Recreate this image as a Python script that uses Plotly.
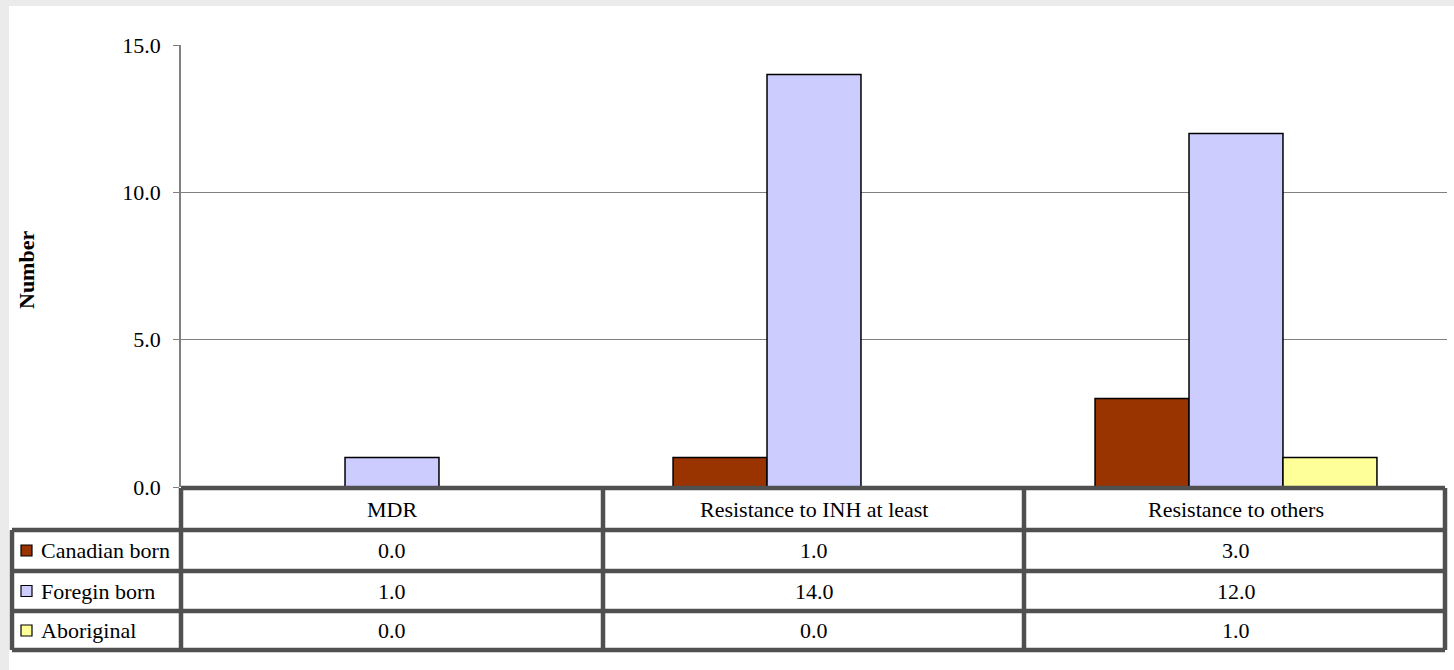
import plotly.graph_objects as go

categories = ["MDR", "Resistance to INH at least", "Resistance to others"]
series_names = ["Canadian born", "Foregin born", "Aboriginal"]
canadian_born = [0.0, 1.0, 3.0]
foreign_born = [1.0, 14.0, 12.0]
aboriginal = [0.0, 0.0, 1.0]
series_values = [canadian_born, foreign_born, aboriginal]
colors = ["#993300", "#CCCCFF", "#FFFF99"]
y_ticks = [0, 5, 10, 15]

W, H = 1454, 670
ML, MR, MT, MB = 181, 7, 45, 183
PW = W - ML - MR
PH = H - MT - MB

def px(p):
    return (p - ML) / PW

def py(p):
    return (H - MB - p) / PH

FONT = "Liberation Serif, Times New Roman, serif"
FS = 22

fig = go.Figure()
for name, vals, col in zip(series_names, series_values, colors):
    fig.add_trace(go.Bar(
        x=categories, y=vals, name=name,
        marker=dict(color=col, line=dict(color="black", width=1.5)),
        showlegend=False,
    ))

shapes = []
# gray frame strips (left and top)
shapes.append(dict(type="rect", xref="paper", yref="paper", x0=px(0), x1=px(W), y0=py(0), y1=py(6),
                   fillcolor="#EBEBEB", line=dict(width=0), layer="below"))
shapes.append(dict(type="rect", xref="paper", yref="paper", x0=px(0), x1=px(9), y0=py(0), y1=py(H),
                   fillcolor="#EBEBEB", line=dict(width=0), layer="below"))

BC = "#505050"
BW = 4.5
def hline(x0, x1, y):
    shapes.append(dict(type="line", xref="paper", yref="paper", x0=px(x0), x1=px(x1), y0=py(y), y1=py(y),
                       line=dict(color=BC, width=BW), layer="above"))
def vline(x, y0, y1):
    shapes.append(dict(type="line", xref="paper", yref="paper", x0=px(x), x1=px(x), y0=py(y0), y1=py(y1),
                       line=dict(color=BC, width=BW), layer="above"))

T_TOP, R1, R2, R3, T_BOT = 488, 530, 571, 611, 650
T_L, C0, C1, C2, T_R = 12, 181, 603, 1024, 1445
hline(C0, T_R, T_TOP)
hline(T_L, T_R, R1)
hline(T_L, T_R, R2)
hline(T_L, T_R, R3)
hline(T_L, T_R, T_BOT)
vline(T_L, R1, T_BOT)
vline(C0, T_TOP, T_BOT)
vline(C1, T_TOP, T_BOT)
vline(C2, T_TOP, T_BOT)
vline(T_R, T_TOP, T_BOT)

annotations = []
row_centers = [(R1 + R2) / 2, (R2 + R3) / 2, (R3 + T_BOT) / 2]
header_center = (T_TOP + R1) / 2
for c in categories:
    annotations.append(dict(x=c, xref="x", yref="paper", y=py(header_center), text=c, showarrow=False,
                            font=dict(family=FONT, size=FS, color="black"), xanchor="center", yanchor="middle"))
for rc, name, vals, col in zip(row_centers, series_names, series_values, colors):
    shapes.append(dict(type="rect", xref="paper", yref="paper", x0=px(21), x1=px(32), y0=py(rc - 5.5), y1=py(rc + 5.5),
                       fillcolor=col, line=dict(color="black", width=1.2), layer="above"))
    annotations.append(dict(x=px(39), xref="paper", yref="paper", y=py(rc), text=name, showarrow=False,
                            font=dict(family=FONT, size=FS, color="black"), xanchor="left", yanchor="middle"))
    for c, v in zip(categories, vals):
        annotations.append(dict(x=c, xref="x", yref="paper", y=py(rc), text=f"{v:.1f}", showarrow=False,
                                font=dict(family=FONT, size=FS, color="black"), xanchor="center", yanchor="middle"))

annotations.append(dict(x=px(26), xref="paper", yref="paper", y=py(270), text="<b>Number</b>", showarrow=False,
                        textangle=-90, font=dict(family=FONT, size=FS, color="black"),
                        xanchor="center", yanchor="middle"))

fig.update_layout(
    width=W, height=H,
    margin=dict(l=ML, r=MR, t=MT, b=MB, pad=0),
    paper_bgcolor="white", plot_bgcolor="white",
    barmode="group", bargap=0.332, bargroupgap=0,
    font=dict(family=FONT, size=FS, color="black"),
    xaxis=dict(showticklabels=False, showgrid=False, zeroline=False, showline=False, ticks=""),
    yaxis=dict(range=[0, 15], tickvals=y_ticks, tickformat=".1f", showgrid=True, gridcolor="#808080",
               gridwidth=1, zeroline=False, showline=True, linecolor="#808080", linewidth=1.5,
               ticks="outside", ticklen=6, tickcolor="#808080", tickfont=dict(family=FONT, size=FS),
               ticklabelstandoff=8, fixedrange=True),
    shapes=shapes, annotations=annotations,
)
fig.write_html("out.html", config={"displayModeBar": False},
               post_script="document.body.style.margin='0';document.body.style.overflow='hidden';")
